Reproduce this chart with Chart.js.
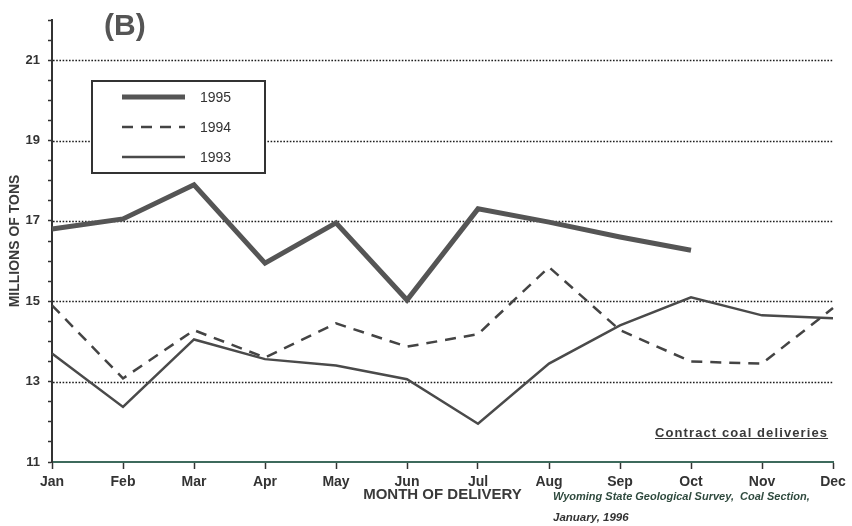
<!DOCTYPE html>
<html>
<head>
<meta charset="utf-8">
<script src="https://cdn.jsdelivr.net/npm/chart.js@4"></script>
<style>
  html, body { margin: 0; padding: 0; background: #fff; }
  #wrap { position: relative; width: 852px; height: 526px; font-family: "Liberation Sans", Arial, sans-serif; }
  #wrap canvas { position: absolute; left: 0; top: 0; }
  .txt { position: absolute; white-space: nowrap; }
  #panel { left: 104px; top: 8px; font-size: 30px; font-weight: bold; color: #555; }
  #note { left: 655px; top: 425px; font-size: 13px; font-weight: bold; color: #3a3a3a; text-decoration: underline; letter-spacing: 1.1px; }
  #src1 { left: 553px; top: 490px; font-size: 11px; font-weight: bold; font-style: italic; color: #2f4a3e; }
  #src2 { left: 553px; top: 511px; font-size: 11.5px; font-weight: bold; font-style: italic; color: #333; }
</style>
</head>
<body>
<div id="wrap">
  <canvas id="c" width="852" height="526"></canvas>
  <div class="txt" id="panel">(B)</div>
  <div class="txt" id="note">Contract coal deliveries</div>
  <div class="txt" id="src1">Wyoming State Geological Survey,&nbsp;&nbsp;Coal Section,</div>
  <div class="txt" id="src2">January, 1996</div>
</div>
<script>
// Monthly contract coal deliveries, millions of tons
const months = ['Jan', 'Feb', 'Mar', 'Apr', 'May', 'Jun', 'Jul', 'Aug', 'Sep', 'Oct', 'Nov', 'Dec'];
const deliveries1995 = [16.8, 17.05, 17.9, 15.95, 16.95, 15.03, 17.3, 16.97, 16.6, 16.27, null, null];
const deliveries1994 = [14.9, 13.08, 14.28, 13.6, 14.45, 13.87, 14.18, 15.85, 14.28, 13.5, 13.45, 14.83];
const deliveries1993 = [13.7, 12.37, 14.05, 13.56, 13.4, 13.06, 11.95, 13.45, 14.4, 15.1, 14.65, 14.58];
const labeledTicks = [11, 13, 15, 17, 19, 21];
const gridValues = [13, 15, 17, 19, 21];

// Dotted horizontal reference lines
const dottedGrid = {
  id: 'dottedGrid',
  beforeDatasetsDraw(chart) {
    const { ctx, chartArea } = chart;
    const y = chart.scales.y;
    ctx.save();
    ctx.strokeStyle = '#1e1e1e';
    ctx.lineWidth = 1.6;
    ctx.setLineDash([1.6, 1.6]);
    gridValues.forEach(v => {
      const py = Math.round(y.getPixelForValue(v)) + 0.5;
      ctx.beginPath();
      ctx.moveTo(chartArea.left + 1, py);
      ctx.lineTo(chartArea.right, py);
      ctx.stroke();
    });
    ctx.restore();
  }
};

// Boxed legend in the upper left of the plot
const boxedLegend = {
  id: 'boxedLegend',
  afterDatasetsDraw(chart) {
    const { ctx } = chart;
    const bx = 92, by = 81, bw = 173, bh = 92;
    ctx.save();
    ctx.fillStyle = '#fff';
    ctx.fillRect(bx, by, bw, bh);
    ctx.strokeStyle = '#333';
    ctx.lineWidth = 2;
    ctx.setLineDash([]);
    ctx.strokeRect(bx, by, bw, bh);
    chart.data.datasets.forEach((ds, i) => {
      const cy = by + 16 + i * 30;
      ctx.beginPath();
      ctx.strokeStyle = ds.borderColor;
      ctx.lineWidth = ds.borderWidth;
      ctx.setLineDash(ds.borderDash || []);
      ctx.moveTo(122, cy);
      ctx.lineTo(185, cy);
      ctx.stroke();
      ctx.setLineDash([]);
      ctx.fillStyle = '#333';
      ctx.font = '14px "Liberation Sans", Arial, sans-serif';
      ctx.textBaseline = 'middle';
      ctx.fillText(ds.label, 200, cy + 1);
    });
    ctx.restore();
  }
};

new Chart(document.getElementById('c'), {
  type: 'line',
  data: {
    labels: months,
    datasets: [
      { label: '1995', data: deliveries1995, borderColor: '#555', borderWidth: 5, pointRadius: 0, tension: 0, spanGaps: false },
      { label: '1994', data: deliveries1994, borderColor: '#444', borderWidth: 2.5, borderDash: [11, 8], pointRadius: 0, tension: 0 },
      { label: '1993', data: deliveries1993, borderColor: '#4a4a4a', borderWidth: 2.5, pointRadius: 0, tension: 0 }
    ]
  },
  options: {
    responsive: false,
    animation: false,
    events: [],
    layout: { padding: { top: 20, right: 19, left: 0, bottom: 0 } },
    plugins: { legend: { display: false }, tooltip: { enabled: false } },
    scales: {
      x: {
        type: 'category',
        offset: false,
        grid: { drawOnChartArea: false, drawTicks: true, tickLength: 7, tickColor: '#333', tickWidth: 1.5 },
        border: { display: true, color: '#3d6a5c', width: 2 },
        ticks: { color: '#333', padding: 5, maxRotation: 0, autoSkip: false,
                 font: { family: '"Liberation Sans", Arial, sans-serif', size: 14, weight: 'bold' } },
        title: { display: true, text: 'MONTH OF DELIVERY', color: '#3a3a3a', padding: { top: 0, bottom: 22 },
                 font: { family: '"Liberation Sans", Arial, sans-serif', size: 15, weight: 'bold' } },
        afterFit(s) { s.height = 64; s.paddingLeft = 0; s.paddingRight = 0; s.paddingTop = 0; s.paddingBottom = 0; }
      },
      y: {
        min: 11, max: 22,
        afterBuildTicks(s) {
          const t = [];
          for (let v = 11; v <= 22.001; v += 0.5) t.push({ value: v });
          s.ticks = t;
        },
        grid: { drawOnChartArea: false, drawTicks: true, tickLength: 4, tickColor: '#333', tickWidth: 1.5 },
        border: { display: true, color: '#333', width: 2 },
        ticks: {
          color: '#333', padding: 8,
          callback: v => labeledTicks.includes(v) ? String(v) : '',
          font: { family: '"Liberation Sans", Arial, sans-serif', size: 13, weight: 'bold' }
        },
        title: { display: true, text: 'MILLIONS OF TONS', color: '#3a3a3a', padding: { top: 7, bottom: 0 },
                 font: { family: '"Liberation Sans", Arial, sans-serif', size: 14, weight: 'bold' } },
        afterFit(s) { s.width = 52; s.paddingLeft = 0; s.paddingRight = 0; s.paddingTop = 0; s.paddingBottom = 0; }
      }
    }
  },
  plugins: [dottedGrid, boxedLegend]
});
</script>
</body>
</html>
